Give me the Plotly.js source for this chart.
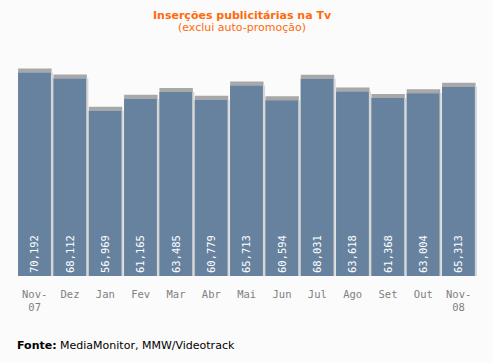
<!DOCTYPE html>
<html><head><meta charset="utf-8">
<script src="https://cdn.plot.ly/plotly-3.0.1.min.js"></script>
<style>body{margin:0;background:#fbfbfb}#c{width:493px;height:363px}</style>
</head><body><div id="c"></div>
<script>
var categories = ["Nov-<br>07","Dez","Jan","Fev","Mar","Abr","Mai","Jun","Jul","Ago","Set","Out","Nov-<br>08"];
var values = [70192,68112,56969,61165,63485,60779,65713,60594,68031,63618,61368,63004,65313];
var labels = values.map(function(v){return v.toLocaleString('en-US');});

var topShadow = {type:'bar', x:categories, y:values, hoverinfo:'skip',
  marker:{color:'#b4b4b4', line:{color:'#a8a8a8', width:8}}, offset:-0.355, width:0.72};
var sideShadow = {type:'bar', x:categories, y:values, hoverinfo:'skip',
  marker:{color:'#d6d6d6', line:{width:0}}, offset:-0.47, width:0.99};
var bars = {type:'bar', x:categories, y:values, text:labels, textposition:'inside',
  insidetextanchor:'start', textangle:-90, cliponaxis:false,
  textfont:{family:'DejaVu Sans Mono', size:10.5, color:'#ffffff'},
  marker:{color:'#67829f', line:{width:0}}, offset:-0.47, width:0.93};

var layout = {
  width:493, height:363, paper_bgcolor:'#fbfbfb', plot_bgcolor:'#fbfbfb',
  margin:{l:17, r:16, t:60, b:87}, barmode:'overlay', showlegend:false,
  xaxis:{showgrid:false, zeroline:false, showline:false, ticks:'', ticklabelstandoff:10,
    tickfont:{family:'DejaVu Sans Mono', size:10.5, color:'#808080'}},
  yaxis:{range:[0,74500], visible:false, showgrid:false},
  annotations:[
    {text:'<b>Inserções publicitárias na Tv</b>', xref:'paper', yref:'paper', x:0.49, y:(276-15)/216, xanchor:'center', yanchor:'middle', showarrow:false,
      font:{family:'DejaVu Sans', size:11, color:'#ff6a0a'}},
    {text:'(exclui auto-promoção)', xref:'paper', yref:'paper', x:0.49, y:(276-27)/216, xanchor:'center', yanchor:'middle', showarrow:false,
      font:{family:'DejaVu Sans', size:11, color:'#ff6a0a'}},
    {text:'<b>Fonte:</b> MediaMonitor, MMW/Videotrack', xref:'paper', yref:'paper', x:-0.005, y:(276-345)/216, xanchor:'left', yanchor:'middle', showarrow:false,
      font:{family:'DejaVu Sans', size:11, color:'#000000'}}]
};
Plotly.newPlot('c',[topShadow,sideShadow,bars],layout,{displayModeBar:false});
</script></body></html>
